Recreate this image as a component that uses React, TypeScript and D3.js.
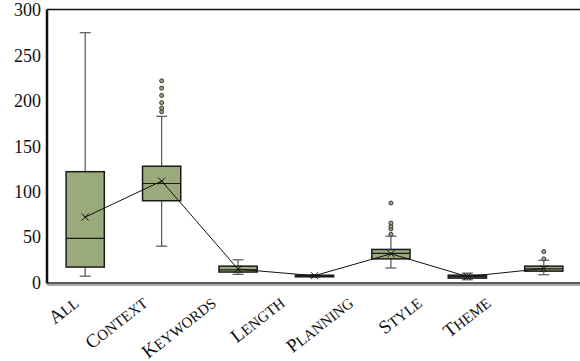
import React from 'react'
import * as d3 from 'd3'

const categories = ['ALL', 'CONTEXT', 'KEYWORDS', 'LENGTH', 'PLANNING', 'STYLE', 'THEME']
const whiskerLow = [7, 40, 9, 6, 16, 3, 8.5]
const q1 = [17, 90, 11.5, 6.3, 26, 4.8, 12.5]
const median = [48.5, 109, 14, 7, 32, 6.5, 15]
const q3 = [122, 128, 18, 8, 36.4, 8.1, 18]
const whiskerHigh = [275, 183, 25, 8.5, 51, 10.3, 24.5]
const means = [72, 111.7, 14.7, 7.5, 31.6, 6.6, 15.4]
const outliers = [[], [188, 192, 198, 206, 214, 222], [], [], [53, 59, 62, 65.5, 87.5], [], [26, 34]]
const yTicks = [0, 50, 100, 150, 200, 250, 300]

const W = 580
const H = 361
const left = 47
const top = 9.5
const bottom = 282.5
const right = 582

const fill = '#9aaa7a'
const font = '"Liberation Serif", serif'

export default function App() {
  const x = d3.scaleBand().domain(categories).range([left, right]).paddingInner(0.5).paddingOuter(0.25)
  const y = d3.scaleLinear().domain([0, 300]).range([bottom, top + 0.5])
  const lab = d3.scalePoint().domain(categories).range([80, 492])
  const bw = x.bandwidth()
  const cx = (c: string) => (x(c) as number) + bw / 2
  const line = d3.line<number>().x((_, i) => cx(categories[i])).y(d => y(d))

  return (
    <svg width={W} height={H} style={{ position: 'absolute', left: 0, top: 0, background: '#fff' }}>
      <line x1={left} x2={right} y1={top} y2={top} stroke="#111" strokeWidth={1.5} />
      <line x1={left} x2={left} y1={top} y2={bottom + 1} stroke="#111" strokeWidth={2.5} />
      <line x1={left} x2={right} y1={bottom + 0.5} y2={bottom + 0.5} stroke="#222" strokeWidth={1.5} />
      <line x1={left} x2={right} y1={bottom + 2.5} y2={bottom + 2.5} stroke="#555" strokeWidth={1} />

      {yTicks.map(t => (
        <text key={t} x={41} y={y(t)} dy="0.35em" textAnchor="end" fontFamily={font} fontSize={18} fill="#111">{t}</text>
      ))}

      {categories.map((c, i) => {
        const m = cx(c)
        return (
          <g key={c}>
            <line x1={m} x2={m} y1={y(whiskerHigh[i])} y2={y(q3[i])} stroke="#555" strokeWidth={1.2} />
            <line x1={m} x2={m} y1={y(q1[i])} y2={y(whiskerLow[i])} stroke="#555" strokeWidth={1.2} />
            <line x1={m - 5.5} x2={m + 5.5} y1={y(whiskerHigh[i])} y2={y(whiskerHigh[i])} stroke="#555" strokeWidth={1.2} />
            <line x1={m - 5.5} x2={m + 5.5} y1={y(whiskerLow[i])} y2={y(whiskerLow[i])} stroke="#555" strokeWidth={1.2} />
            <rect x={x(c)} y={y(q3[i])} width={bw} height={Math.max(1, y(q1[i]) - y(q3[i]))} fill={fill} stroke="#1a1a1a" strokeWidth={1.5} />
            <line x1={x(c)} x2={(x(c) as number) + bw} y1={y(median[i])} y2={y(median[i])} stroke="#1a1a1a" strokeWidth={1.2} />
            {outliers[i].map((o, j) => (
              <circle key={j} cx={m} cy={y(o)} r={2} fill={fill} stroke="#333" strokeWidth={1} />
            ))}
          </g>
        )
      })}

      <path d={line(means) || ''} fill="none" stroke="#111" strokeWidth={1} />
      {categories.map((c, i) => {
        const m = cx(c)
        const v = y(means[i])
        return (
          <path key={c} d={`M${m - 3.5},${v - 3.5}L${m + 3.5},${v + 3.5}M${m - 3.5},${v + 3.5}L${m + 3.5},${v - 3.5}`} stroke="#111" strokeWidth={1} />
        )
      })}

      {categories.map(c => (
        <text key={c} transform={`translate(${lab(c)},305) rotate(-38)`} textAnchor="end" fontFamily={font} fill="#111">
          <tspan fontSize={19}>{c[0]}</tspan>
          <tspan fontSize={15}>{c.slice(1)}</tspan>
        </text>
      ))}
    </svg>
  )
}
